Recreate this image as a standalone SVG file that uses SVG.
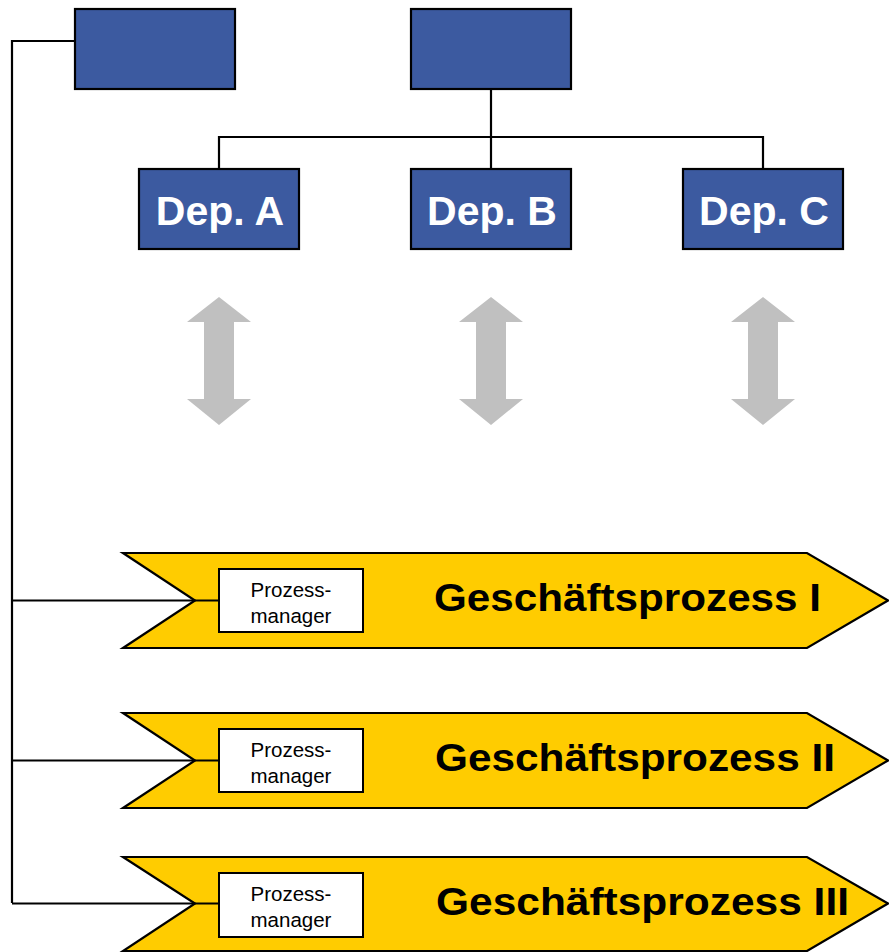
<svg xmlns="http://www.w3.org/2000/svg" width="889" height="952" viewBox="0 0 889 952">
<defs>
<style>
.box{fill:#3C5AA0;stroke:#000;stroke-width:2.2}
.dep{font-family:"Liberation Sans",Arial,sans-serif;font-weight:bold;font-size:41px;fill:#fff;text-anchor:middle}
.conn{fill:none;stroke:#000;stroke-width:2.2}
.dbl{fill:#C0C0C0}
.proc{fill:#FFCC00;stroke:#000;stroke-width:2.2;stroke-linejoin:miter}
.pm{fill:#fff;stroke:#000;stroke-width:2}
.pmt{font-family:"Liberation Sans",Arial,sans-serif;font-size:20.5px;fill:#000;text-anchor:middle}
.gp{font-family:"Liberation Sans",Arial,sans-serif;font-weight:bold;font-size:38px;fill:#000}
</style>
<path id="dbla" d="M0,0 L32,25 L15,25 L15,102 L32,102 L0,128 L-32,102 L-15,102 L-15,25 L-32,25 Z"/>
</defs>
<rect width="889" height="952" fill="#fff"/>

<g id="connectors">
<path class="conn" d="M75,41 H12 V903"/>
<path class="conn" d="M491,89 V169"/>
<path class="conn" d="M219,169 V137 H763 V169"/>
</g>

<g id="top-left"><rect class="box" x="75" y="9" width="160" height="80"/></g>
<g id="top-center"><rect class="box" x="411" y="9" width="160" height="80"/></g>

<g id="dep-a"><rect class="box" x="139" y="169" width="160" height="80"/><text class="dep" x="220" y="224.5">Dep. A</text></g>
<g id="dep-b"><rect class="box" x="411" y="169" width="160" height="80"/><text class="dep" x="492" y="224.5">Dep. B</text></g>
<g id="dep-c"><rect class="box" x="683" y="169" width="160" height="80"/><text class="dep" x="764" y="224.5">Dep. C</text></g>

<g id="arrow-a"><use href="#dbla" class="dbl" transform="translate(219,297)"/></g>
<g id="arrow-b"><use href="#dbla" class="dbl" transform="translate(491,297)"/></g>
<g id="arrow-c"><use href="#dbla" class="dbl" transform="translate(763,297)"/></g>

<g id="process-1">
<path class="proc" d="M123,553 H807 L888,600.5 L807,648 H123 L195,600.5 Z"/>
<path class="conn" d="M12,600.5 H219"/>
<rect class="pm" x="219" y="569" width="144" height="63"/>
<text class="pmt" x="291" y="597">Prozess-</text>
<text class="pmt" x="291" y="623">manager</text>
<text class="gp" x="434" y="611" textLength="387" lengthAdjust="spacingAndGlyphs">Geschäftsprozess I</text>
</g>

<g id="process-2">
<path class="proc" d="M123,713 H807 L888,760.5 L807,808 H123 L195,760.5 Z"/>
<path class="conn" d="M12,760.5 H219"/>
<rect class="pm" x="219" y="729" width="144" height="63"/>
<text class="pmt" x="291" y="757">Prozess-</text>
<text class="pmt" x="291" y="783">manager</text>
<text class="gp" x="435" y="771" textLength="400" lengthAdjust="spacingAndGlyphs">Geschäftsprozess II</text>
</g>

<g id="process-3">
<path class="proc" d="M123,857 H807 L888,903.5 L807,951 H123 L195,903.5 Z"/>
<path class="conn" d="M12,903.5 H219"/>
<rect class="pm" x="219" y="873" width="144" height="64"/>
<text class="pmt" x="291" y="901">Prozess-</text>
<text class="pmt" x="291" y="927">manager</text>
<text class="gp" x="436" y="915" textLength="413" lengthAdjust="spacingAndGlyphs">Geschäftsprozess III</text>
</g>
</svg>
